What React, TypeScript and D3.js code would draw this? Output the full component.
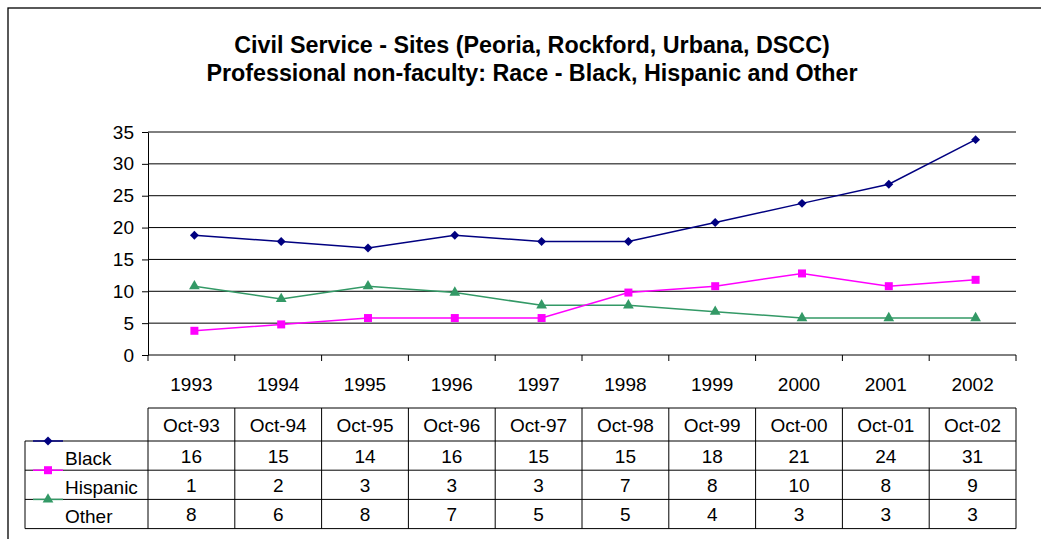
import React, { useEffect, useRef } from "react";
import * as d3 from "d3";

const years = ["1993", "1994", "1995", "1996", "1997", "1998", "1999", "2000", "2001", "2002"];
const tableHeaders = ["Oct-93", "Oct-94", "Oct-95", "Oct-96", "Oct-97", "Oct-98", "Oct-99", "Oct-00", "Oct-01", "Oct-02"];
const seriesNames = ["Black", "Hispanic", "Other"];

// values as plotted on the chart
const blackPlot = [18.8, 17.8, 16.8, 18.8, 17.8, 17.8, 20.8, 23.8, 26.8, 33.8];
const hispanicPlot = [3.8, 4.8, 5.8, 5.8, 5.8, 9.8, 10.8, 12.8, 10.8, 11.8];
const otherPlot = [10.8, 8.8, 10.8, 9.8, 7.8, 7.8, 6.8, 5.8, 5.8, 5.8];

// values printed in the data table
const blackTable = [16, 15, 14, 16, 15, 15, 18, 21, 24, 31];
const hispanicTable = [1, 2, 3, 3, 3, 7, 8, 10, 8, 9];
const otherTable = [8, 6, 8, 7, 5, 5, 4, 3, 3, 3];

const yTicks = [0, 5, 10, 15, 20, 25, 30, 35];

const colors = ["#000080", "#ff00ff", "#339966"];
const symbols = [d3.symbolSquare, d3.symbolSquare, d3.symbolTriangle];
const symbolSizes = [40, 64, 50];
const symbolRotate = [45, 0, 0];

const App: React.FC = () => {
  const ref = useRef<SVGSVGElement | null>(null);

  useEffect(() => {
    const width = 1041;
    const height = 539;
    const left = 148;
    const right = 1016;
    const top = 132;
    const bottom = 355;
    const font = "'Liberation Sans', Arial, sans-serif";
    const fs = 19;

    const svg = d3.select(ref.current);
    svg.selectAll("*").remove();
    svg.attr("width", width).attr("height", height);

    svg
      .append("rect")
      .attr("width", width)
      .attr("height", height)
      .attr("fill", "#fff");

    // outer frame (runs off the page on the right / bottom)
    svg
      .append("rect")
      .attr("x", 8)
      .attr("y", 8)
      .attr("width", 1200)
      .attr("height", 700)
      .attr("fill", "none")
      .attr("stroke", "#000")
      .attr("stroke-width", 1.3);

    // title
    const title = svg
      .append("text")
      .attr("text-anchor", "middle")
      .attr("font-family", font)
      .attr("font-weight", "bold")
      .attr("font-size", 23.3)
      .attr("fill", "#000");
    title.append("tspan").attr("x", 532).attr("y", 53).text("Civil Service - Sites (Peoria, Rockford, Urbana, DSCC)");
    title.append("tspan").attr("x", 532).attr("y", 81).text("Professional non-faculty: Race - Black, Hispanic and Other");

    const x = d3.scaleBand<string>().domain(years).range([left, right]);
    const y = d3.scaleLinear().domain([0, 35]).range([bottom, top]);
    const markerShift = 3;

    // gridlines
    svg
      .append("g")
      .selectAll("line")
      .data(yTicks.filter((t) => t > 0))
      .enter()
      .append("line")
      .attr("x1", left)
      .attr("x2", right)
      .attr("y1", (d) => y(d))
      .attr("y2", (d) => y(d))
      .attr("stroke", "#000")
      .attr("stroke-width", 1);

    // y axis
    const yAxis = svg
      .append("g")
      .attr("transform", `translate(${left},0)`)
      .call(d3.axisLeft(y).tickValues(yTicks).tickSize(6).tickSizeOuter(0).tickPadding(8));
    yAxis.select(".domain").attr("stroke", "#000");
    yAxis.selectAll("line").attr("stroke", "#000");
    yAxis
      .selectAll("text")
      .attr("font-family", font)
      .attr("font-size", fs)
      .attr("fill", "#000");

    // x axis
    const bounds = years.map((yr) => x(yr)!).concat([right]);
    const xAxis = svg.append("g");
    xAxis
      .append("line")
      .attr("x1", left)
      .attr("x2", right)
      .attr("y1", bottom)
      .attr("y2", bottom)
      .attr("stroke", "#000");
    xAxis
      .selectAll("line.tick")
      .data(bounds)
      .enter()
      .append("line")
      .attr("class", "tick")
      .attr("x1", (d) => d)
      .attr("x2", (d) => d)
      .attr("y1", bottom)
      .attr("y2", bottom + 6)
      .attr("stroke", "#000");
    xAxis
      .selectAll("text")
      .data(years)
      .enter()
      .append("text")
      .attr("x", (d) => x(d)! + x.bandwidth() / 2)
      .attr("y", 391)
      .attr("text-anchor", "middle")
      .attr("font-family", font)
      .attr("font-size", fs)
      .attr("fill", "#000")
      .text((d) => d);

    // series
    const plotSeries = [blackPlot, hispanicPlot, otherPlot];
    const line = d3
      .line<number>()
      .x((_, i) => x(years[i])! + x.bandwidth() / 2 + markerShift)
      .y((d) => y(d));

    // draw Other, Hispanic, Black so Black sits on top
    [2, 1, 0].forEach((s) => {
      const g = svg.append("g");
      g.append("path")
        .datum(plotSeries[s])
        .attr("d", line)
        .attr("fill", "none")
        .attr("stroke", colors[s])
        .attr("stroke-width", 1.5);
      g.selectAll("path.m")
        .data(plotSeries[s])
        .enter()
        .append("path")
        .attr("class", "m")
        .attr("d", d3.symbol().type(symbols[s]).size(symbolSizes[s])()!)
        .attr(
          "transform",
          (d, i) =>
            `translate(${x(years[i])! + x.bandwidth() / 2 + markerShift},${y(d)}) rotate(${symbolRotate[s]})`
        )
        .attr("fill", colors[s]);
    });

    // data table
    const headTop = 408;
    const rowTop = 441;
    const rowH = 29.2;
    const tableLeft = 25;
    const table = svg.append("g");
    const tableRows = [blackTable, hispanicTable, otherTable];
    const tableBottom = rowTop + rowH * tableRows.length;

    table
      .append("line")
      .attr("x1", left)
      .attr("x2", right)
      .attr("y1", headTop)
      .attr("y2", headTop)
      .attr("stroke", "#000");
    d3.range(tableRows.length + 1).forEach((r) => {
      table
        .append("line")
        .attr("x1", tableLeft)
        .attr("x2", right)
        .attr("y1", rowTop + r * rowH)
        .attr("y2", rowTop + r * rowH)
        .attr("stroke", "#000");
    });
    table
      .selectAll("line.v")
      .data(bounds)
      .enter()
      .append("line")
      .attr("class", "v")
      .attr("x1", (d) => d)
      .attr("x2", (d) => d)
      .attr("y1", headTop)
      .attr("y2", tableBottom)
      .attr("stroke", "#000");
    table
      .append("line")
      .attr("x1", tableLeft)
      .attr("x2", tableLeft)
      .attr("y1", rowTop)
      .attr("y2", tableBottom)
      .attr("stroke", "#000");

    table
      .selectAll("text.h")
      .data(tableHeaders)
      .enter()
      .append("text")
      .attr("class", "h")
      .attr("x", (_, i) => x(years[i])! + x.bandwidth() / 2)
      .attr("y", headTop + 24)
      .attr("text-anchor", "middle")
      .attr("font-family", font)
      .attr("font-size", fs)
      .attr("fill", "#000")
      .text((d) => d);

    tableRows.forEach((row, r) => {
      const ry = rowTop + r * rowH;
      table
        .selectAll(`text.r${r}`)
        .data(row)
        .enter()
        .append("text")
        .attr("class", `r${r}`)
        .attr("x", (_, i) => x(years[i])! + x.bandwidth() / 2)
        .attr("y", ry + 22)
        .attr("text-anchor", "middle")
        .attr("font-family", font)
        .attr("font-size", fs)
        .attr("fill", "#000")
        .text((d) => d);

      // legend key
      table
        .append("line")
        .attr("x1", 33)
        .attr("x2", 63)
        .attr("y1", ry)
        .attr("y2", ry)
        .attr("stroke", colors[r])
        .attr("stroke-width", 1.5);
      table
        .append("path")
        .attr("d", d3.symbol().type(symbols[r]).size(symbolSizes[r])()!)
        .attr("transform", `translate(48,${ry}) rotate(${symbolRotate[r]})`)
        .attr("fill", colors[r]);
      table
        .append("text")
        .attr("x", 65)
        .attr("y", ry + 24)
        .attr("font-family", font)
        .attr("font-size", fs)
        .attr("fill", "#000")
        .text(seriesNames[r]);
    });
  }, []);

  return (
    <svg
      ref={ref}
      style={{ position: "absolute", left: 0, top: 0, display: "block" }}
    />
  );
};

export default App;
